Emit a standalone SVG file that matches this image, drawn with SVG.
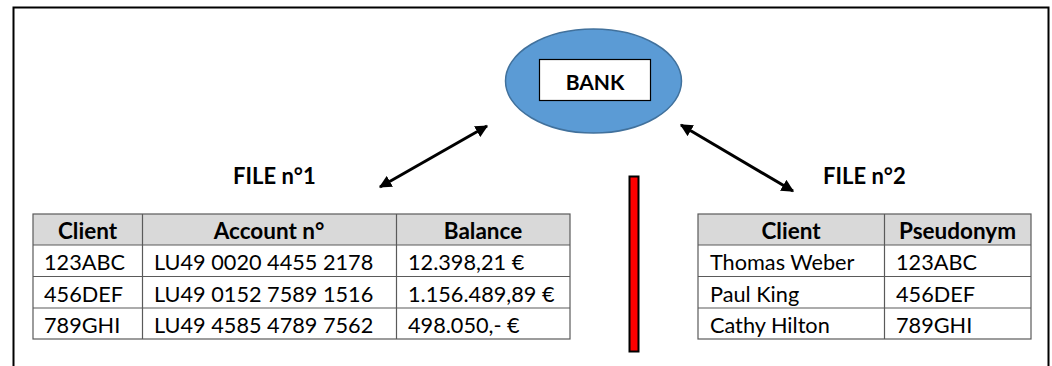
<svg xmlns="http://www.w3.org/2000/svg" width="1052" height="366" viewBox="0 0 1052 366">
  <style>
    text { font-family: Lato, "Open Sans", "Liberation Sans", sans-serif; fill: #000; }
    .cell { font-size: 21.7px; }
    .head { font-size: 22.5px; font-weight: bold; text-anchor: middle; }
    .title { font-size: 22px; font-weight: bold; }
    .grid { stroke: #5a5a5a; stroke-width: 1.2; fill: none; }
    .hdr { fill: #d9d9d9; }
    .link { stroke: #000; stroke-width: 3; fill: none; }
  </style>
  <defs>
    <marker id="head" viewBox="0 0 10 10" refX="9" refY="5" markerWidth="4.2" markerHeight="4.2" orient="auto-start-reverse" markerUnits="strokeWidth">
      <path d="M0,0 L10,5 L0,10 z" fill="#000"/>
    </marker>
  </defs>

  <rect width="1052" height="366" fill="#fff"/>
  <!-- page frame -->
  <rect x="13.5" y="7.5" width="1035" height="380" fill="none" stroke="#000" stroke-width="2"/>

  <!-- bank -->
  <g id="bank">
    <ellipse cx="593.5" cy="81" rx="88" ry="52" fill="#5b9bd5" stroke="#41719c" stroke-width="1.5"/>
    <rect x="539.5" y="59.5" width="111" height="41" fill="#fff" stroke="#000" stroke-width="1.2"/>
    <text x="595" y="90" class="title" text-anchor="middle" style="font-size:21px">BANK</text>
  </g>

  <!-- file titles -->
  <g id="file1-label">
    <text x="233" y="184" class="title">FILE n°1</text>
  </g>
  <g id="file2-label">
    <text x="823" y="184" class="title">FILE n°2</text>
  </g>

  <!-- separation bar -->
  <g id="separator">
    <rect x="629.5" y="176.5" width="9" height="175" fill="#ff0000" stroke="#000" stroke-width="2"/>
  </g>

  <!-- connectors -->
  <g id="connectors">
    <line class="link" x1="380" y1="187" x2="487" y2="126" marker-start="url(#head)" marker-end="url(#head)"/>
    <line class="link" x1="681" y1="125" x2="793" y2="191" marker-start="url(#head)" marker-end="url(#head)"/>
  </g>

  <!-- file 1 table -->
  <g id="file1">
    <rect class="hdr" x="33" y="214" width="537" height="31"/>
    <rect class="grid" x="33" y="214" width="537" height="125"/>
    <path class="grid" d="M33 245H570M33 276.5H570M33 308H570M142.5 214V339M396.5 214V339"/>
    <text class="head" x="87.5" y="239">Client</text>
    <text class="head" x="269" y="239">Account n°</text>
    <text class="head" x="483" y="239">Balance</text>
    <text class="cell" x="44" y="270">123ABC</text>
    <text class="cell" x="154" y="270">LU49 0020 4455 2178</text>
    <text class="cell" x="408" y="270">12.398,21 €</text>
    <text class="cell" x="44" y="302">456DEF</text>
    <text class="cell" x="154" y="302">LU49 0152 7589 1516</text>
    <text class="cell" x="408" y="302">1.156.489,89 €</text>
    <text class="cell" x="44" y="333">789GHI</text>
    <text class="cell" x="154" y="333">LU49 4585 4789 7562</text>
    <text class="cell" x="408" y="333">498.050,- €</text>
  </g>

  <!-- file 2 table -->
  <g id="file2">
    <rect class="hdr" x="698" y="214" width="333" height="31"/>
    <rect class="grid" x="698" y="214" width="333" height="125"/>
    <path class="grid" d="M698 245H1031M698 276.5H1031M698 308H1031M884.5 214V339"/>
    <text class="head" x="791" y="239">Client</text>
    <text class="head" x="957.5" y="239">Pseudonym</text>
    <text class="cell" x="710" y="270">Thomas Weber</text>
    <text class="cell" x="896" y="270">123ABC</text>
    <text class="cell" x="710" y="302">Paul King</text>
    <text class="cell" x="896" y="302">456DEF</text>
    <text class="cell" x="710" y="333">Cathy Hilton</text>
    <text class="cell" x="896" y="333">789GHI</text>
  </g>
</svg>
